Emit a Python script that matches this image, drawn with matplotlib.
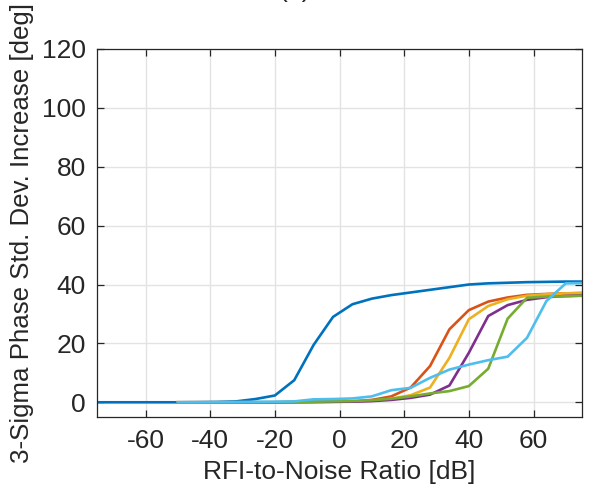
import numpy as np
import matplotlib
matplotlib.use("Agg")
import matplotlib.pyplot as plt

plt.rcParams['font.family'] = ['Liberation Sans', 'DejaVu Sans']

# Data
x_ref = [-80, -74, -68, -62, -56, -50, -44, -38, -32, -26, -20, -14, -8, -2, 4,
         10, 16, 22, 28, 34, 40, 46, 52, 58, 64, 70, 76]
y_ref = [0, 0, 0, 0, 0, 0, 0.05, 0.1, 0.3, 1.1, 2.3, 7.5, 19.5, 29.0, 33.3,
         35.2, 36.4, 37.3, 38.2, 39.1, 40.0, 40.4, 40.6, 40.8, 40.9, 41.0, 41.0]

x_sub = [-50, -44, -38, -32, -26, -20, -14, -8, -2, 4, 10, 16, 22, 28, 34,
         40, 46, 52, 58, 64, 70, 76]
y_orange = [0, 0, 0, 0, 0, 0, 0.05, 0.1, 0.2, 0.3, 0.8, 2.0, 5.0, 12.3, 24.8,
            31.3, 34.2, 35.6, 36.5, 36.8, 37.0, 37.1]
y_yellow = [0, 0, 0, 0, 0, 0, 0.05, 0.1, 0.15, 0.25, 0.5, 1.2, 2.4, 5.0, 15.1,
            28.2, 32.7, 35.0, 36.2, 36.7, 37.0, 37.2]
y_purple = [0, 0, 0, 0, 0, 0, 0.05, 0.1, 0.15, 0.2, 0.4, 0.8, 1.5, 2.6, 5.7,
            16.8, 29.3, 33.0, 34.8, 35.7, 36.1, 36.3]
y_green = [0, 0, 0, 0, 0, 0, 0.05, 0.2, 0.3, 0.4, 0.7, 1.2, 2.0, 3.0, 3.8,
           5.5, 11.4, 28.4, 35.5, 35.9, 36.0, 36.2]
y_cyan = [0, 0, 0.05, 0.1, 0.15, 0.2, 0.3, 1.0, 1.1, 1.3, 2.0, 4.1, 4.9, 8.3, 11.1,
          12.8, 14.3, 15.5, 21.9, 34.4, 40.4, 40.5]

xticks = [-60, -40, -20, 0, 20, 40, 60]
yticks = [0, 20, 40, 60, 80, 100, 120]

fs = 19

fig = plt.figure(figsize=(5.95, 4.93), dpi=100)
ax = fig.add_axes([97/595, 1 - 417/493, (582 - 97)/595, (417 - 49)/493])

lw = 1.9
ax.plot(x_ref, y_ref, color='#0072BD', lw=lw)
ax.plot(x_sub, y_orange, color='#D95319', lw=lw)
ax.plot(x_sub, y_yellow, color='#EDB120', lw=lw)
ax.plot(x_sub, y_purple, color='#7E2F8E', lw=lw)
ax.plot(x_sub, y_green, color='#77AC30', lw=lw)
ax.plot(x_sub, y_cyan, color='#4DBEEE', lw=lw)

ax.set_xlim(-75, 75)
ax.set_ylim(-5, 120)
ax.set_xticks(xticks)
ax.set_yticks(yticks)
ax.set_xticklabels([str(v) for v in xticks])
ax.set_yticklabels([str(v) for v in yticks])

ax.grid(True, color='#E3E3E3', lw=1.0)
ax.set_axisbelow(True)
for s in ax.spines.values():
    s.set_color('#262626')
    s.set_linewidth(0.9)
ax.tick_params(direction='in', length=5, width=0.9, colors='#262626',
               labelsize=fs, top=True, right=True)
ax.tick_params(axis='x', pad=9)
ax.tick_params(axis='y', pad=8)
for lab in ax.get_xticklabels() + ax.get_yticklabels():
    lab.set_color('#262626')

ax.set_xlabel('RFI-to-Noise Ratio [dB]', fontsize=fs, color='#262626', labelpad=5)
ax.set_ylabel('3-Sigma Phase Std. Dev. Increase [deg]', fontsize=18.6,
              color='#262626', labelpad=6)

fig.text(295/595, 1 - 2/493, '(a)', ha='center', va='bottom', fontsize=fs,
         color='#262626')

fig.savefig('out.png', dpi=100)
